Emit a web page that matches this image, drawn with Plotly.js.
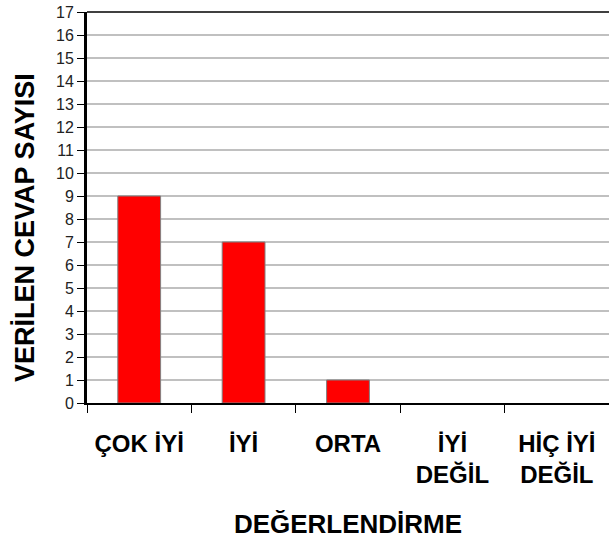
<!DOCTYPE html>
<html>
<head>
<meta charset="utf-8">
<script src="https://cdn.plot.ly/plotly-3.0.1.min.js"></script>
<style>html,body{margin:0;padding:0;background:#fff;}#chart{width:609px;height:548px;}</style>
</head>
<body>
<div id="chart"></div>
<script>
var categories = ["ÇOK İYİ", "İYİ", "ORTA", "İYİ<br>DEĞİL", "HİÇ İYİ<br>DEĞİL"];
var counts = [9, 7, 1, 0, 0];
var yTickValues = [0,1,2,3,4,5,6,7,8,9,10,11,12,13,14,15,16,17];

var trace = {
  type: "bar",
  x: categories,
  y: counts,
  width: 0.41,
  marker: {color: "#ff0000", line: {color: "#808080", width: counts.map(function(v){return v > 0 ? 1 : 0;})}},
  hoverinfo: "x+y"
};

var layout = {
  width: 609,
  height: 548,
  margin: {l: 87, r: 0, t: 12, b: 145},
  paper_bgcolor: "#ffffff",
  plot_bgcolor: "#ffffff",
  showlegend: false,
  font: {family: "Liberation Sans, Arial, sans-serif", color: "#000"},
  xaxis: {
    type: "category",
    range: [-0.5, 4.5],
    tickson: "boundaries",
    ticks: "outside",
    ticklen: 8,
    tickwidth: 1,
    tickcolor: "#000",
    showline: true,
    linecolor: "#000",
    linewidth: 2,
    showgrid: false,
    zeroline: false,
    tickangle: 0,
    tickfont: {family: "Liberation Sans, Arial, sans-serif", size: 24, weight: "bold", color: "#000"},
    ticklabelstandoff: 18,
    automargin: false,
    title: {text: "<b>DEĞERLENDİRME</b>", font: {family: "Liberation Sans, Arial, sans-serif", size: 26, color: "#000"}, standoff: 28}
  },
  yaxis: {
    range: [0, 17],
    tickmode: "array",
    tickvals: yTickValues,
    ticktext: yTickValues.map(String),
    ticks: "outside",
    ticklen: 7,
    tickwidth: 1,
    tickcolor: "#000",
    showline: true,
    linecolor: "#000",
    linewidth: 3,
    showgrid: true,
    gridcolor: "#c0c0c0",
    gridwidth: 1.5,
    zeroline: false,
    tickfont: {family: "Liberation Sans, Arial, sans-serif", size: 16, color: "#222"},
    automargin: false
  },
  annotations: [{
    text: "<b>VERİLEN CEVAP SAYISI</b>",
    xref: "paper", yref: "paper",
    x: -0.119, y: 0.45,
    xanchor: "center", yanchor: "middle",
    textangle: -90,
    showarrow: false,
    font: {family: "Liberation Sans, Arial, sans-serif", size: 27, color: "#000"}
  }],
  shapes: [{type: "line", xref: "paper", yref: "paper", x0: 0, x1: 1, y0: 1, y1: 1, line: {color: "#000", width: 1.5}}]
};

Plotly.newPlot("chart", [trace], layout, {displayModeBar: false, staticPlot: true});
</script>
</body>
</html>
